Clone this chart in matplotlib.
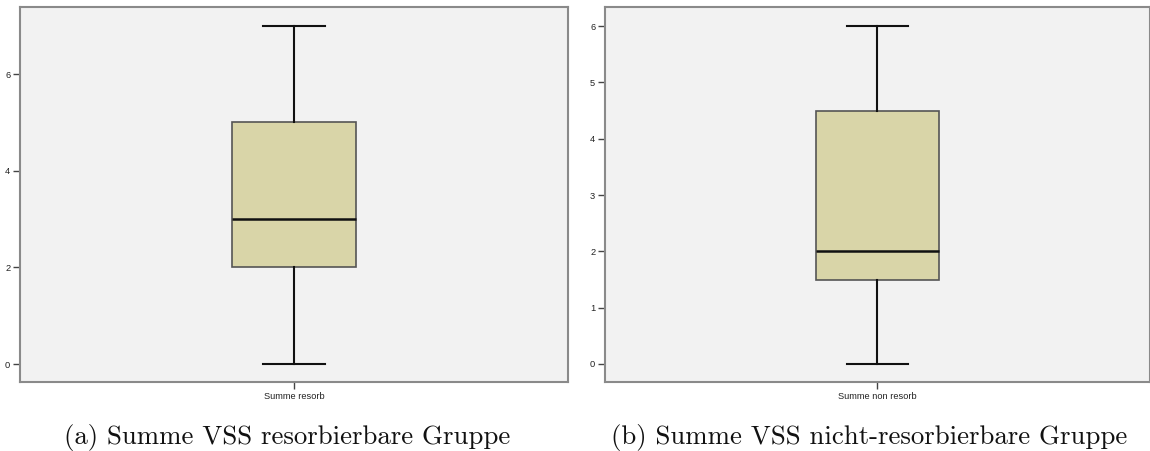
import matplotlib
matplotlib.use("Agg")
import matplotlib.pyplot as plt

# Daten
labels = ["Summe resorb", "Summe non resorb"]
captions = ["(a) Summe VSS resorbierbare Gruppe",
            "(b) Summe VSS nicht-resorbierbare Gruppe"]
whis_lo = [0, 0]
q1 = [2, 1.5]
med = [3, 2]
q3 = [5, 4.5]
whis_hi = [7, 6]
yticks = [[0, 2, 4, 6], [0, 1, 2, 3, 4, 5, 6]]
ylims = [(-0.37, 7.39), (-0.32, 6.34)]

BG = "#f2f2f2"
BOX = "#d9d5a8"
SPINE = "#8a8a8a"

fig = plt.figure(figsize=(11.5, 4.51), dpi=100)
fig.patch.set_facecolor("white")
rects = [[0.0174, 0.153, 0.4765, 0.8315], [0.526, 0.153, 0.4740, 0.8315]]
caption_x = [0.2496, 0.7557]

for i in range(2):
    ax = fig.add_axes(rects[i])
    ax.set_facecolor(BG)
    stats = [{"label": labels[i], "whislo": whis_lo[i], "q1": q1[i],
              "med": med[i], "q3": q3[i], "whishi": whis_hi[i], "fliers": []}]
    ax.bxp(stats, positions=[1], widths=0.226, patch_artist=True,
           showfliers=False,
           boxprops=dict(facecolor=BOX, edgecolor="#555555", linewidth=1.2),
           medianprops=dict(color="#111111", linewidth=1.8),
           whiskerprops=dict(color="#111111", linewidth=1.5),
           capprops=dict(color="#111111", linewidth=1.5),
           capwidths=0.113)
    ax.set_xlim(0.5, 1.5)
    ax.set_ylim(*ylims[i])
    ax.set_yticks(yticks[i])
    ax.set_xticks([1])
    ax.set_xticklabels([labels[i]])
    for side in ["left", "bottom", "top", "right"]:
        ax.spines[side].set_color(SPINE)
        ax.spines[side].set_linewidth(1.5)
    ax.tick_params(axis="both", direction="out", length=5, width=1,
                   color="#444444", labelsize=6.7, labelcolor="#222222", pad=2)
    for t in ax.get_xticklabels() + ax.get_yticklabels():
        t.set_fontfamily("Liberation Sans")
    fig.text(caption_x[i], 0.031, captions[i], ha="center", va="center",
             fontfamily="cmr10", fontsize=19.3, color="#111111")

fig.savefig("out.png", dpi=100, facecolor="white")
